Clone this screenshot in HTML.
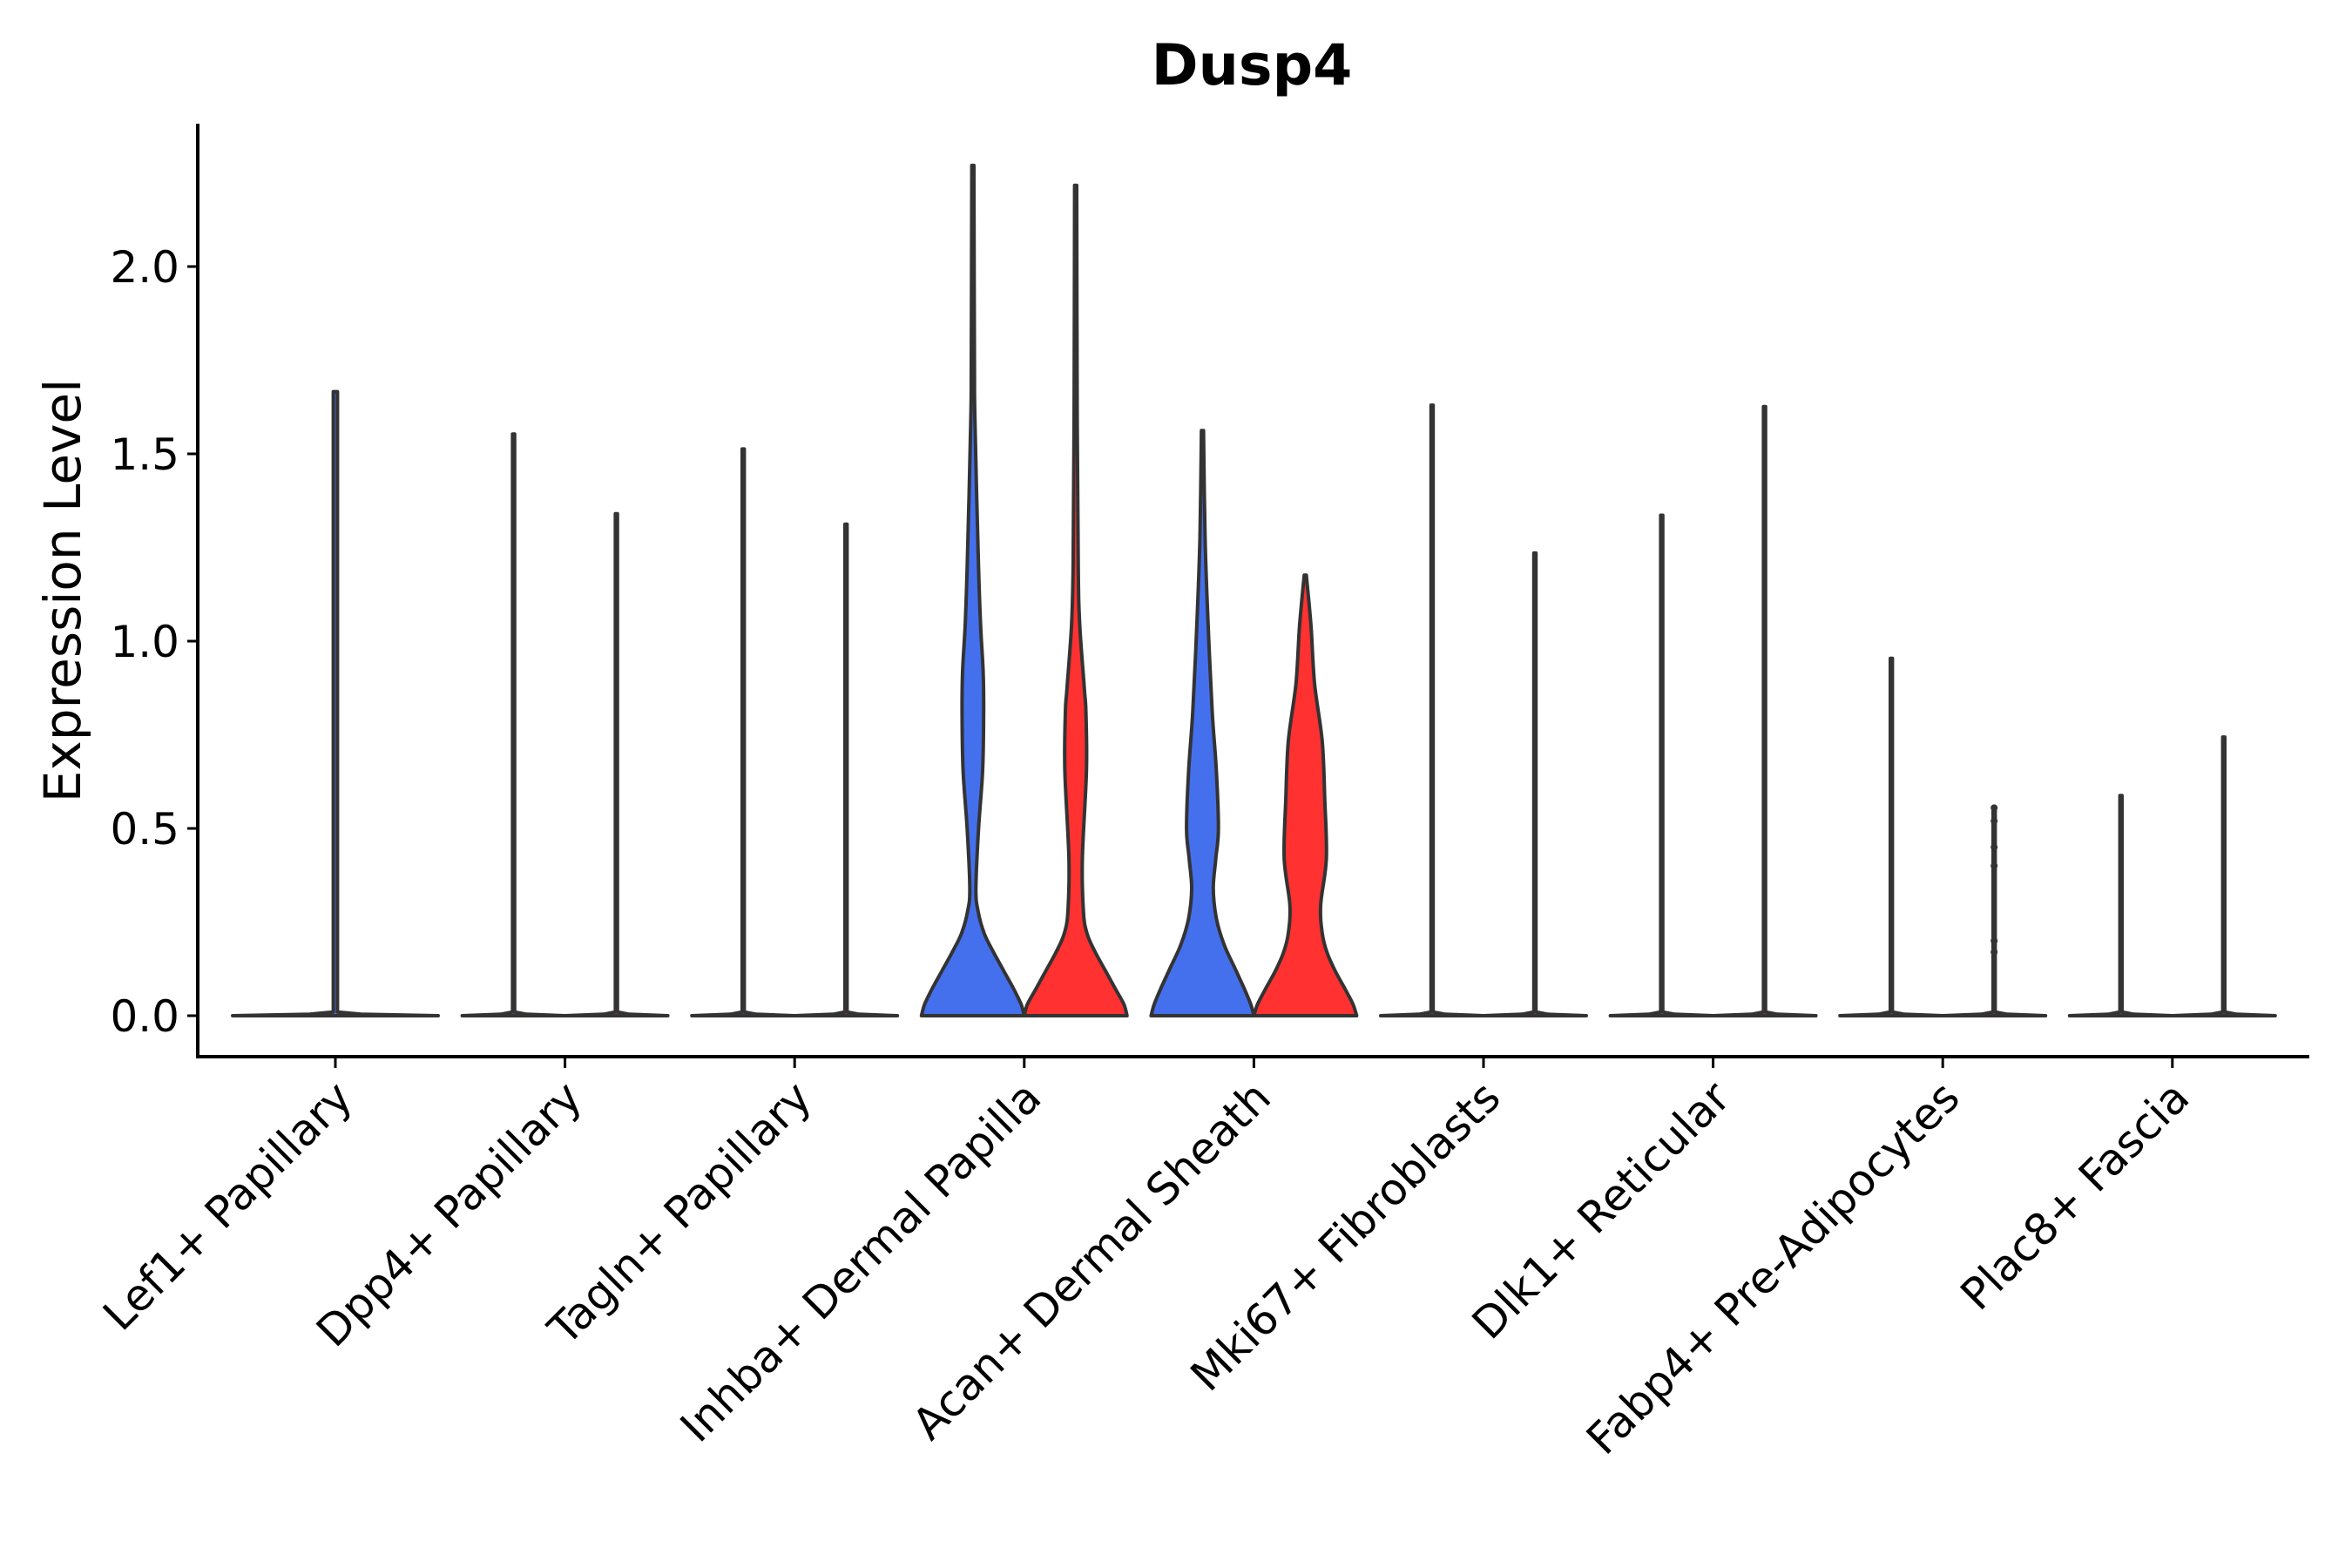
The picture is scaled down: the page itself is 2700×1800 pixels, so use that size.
<!DOCTYPE html>
<html><head><meta charset="utf-8">
<style>
html,body{margin:0;padding:0;background:#fff;}
svg{display:block;font-family:"DejaVu Sans","Liberation Sans",sans-serif;}
</style></head>
<body>
<svg id="chart" width="2700" height="1800" viewBox="0 0 2700 1800" xmlns="http://www.w3.org/2000/svg">
<rect width="2700" height="1800" fill="#fff"/>
<text x="1437" y="97" text-anchor="middle" font-size="65" font-weight="bold">Dusp4</text>
<text transform="translate(92,678) rotate(-90)" text-anchor="middle" font-size="58">Expression Level</text>
<g id="yaxis"></g>
<g id="xaxis"></g>
<g id="violins"></g>
</svg>
<script>
const categories = ["Lef1+ Papillary","Dpp4+ Papillary","Tagln+ Papillary","Inhba+ Dermal Papilla","Acan+ Dermal Sheath","Mki67+ Fibroblasts","Dlk1+ Reticular","Fabp4+ Pre-Adipocytes","Plac8+ Fascia"];
const yTicks = [0, 0.5, 1.0, 1.5, 2.0];
const yTickLabels = ["0.0","0.5","1.0","1.5","2.0"];
const violinCat   = [0, 1, 1, 2, 2, 3, 3, 4, 4, 5, 5, 6, 6, 7, 7, 8, 8];
const violinGroup = [-1, 0, 1, 0, 1, 0, 1, 0, 1, 0, 1, 0, 1, 0, 1, 0, 1];
const violinMax   = [1.666, 1.553, 1.34, 1.513, 1.312, 2.27, 2.217, 1.562, 1.176, 1.63, 1.235, 1.336, 1.626, 0.954, 0.555, 0.588, 0.744];
const thinV = [0, 0.004, 0.01];
const thinW = [1, 0.25, 0.02];
const inhbaBlueV = [0,0.03,0.07,0.12,0.17,0.22,0.28,0.34,0.498,0.654,0.81,0.919,1.043,1.2,1.589,1.745];
const inhbaBlueW = [1,0.94,0.8,0.6,0.4,0.22,0.1,0.06,0.11,0.19,0.21,0.2,0.15,0.11,0.04,0.03];
const inhbaRedV = [0,0.03,0.07,0.12,0.17,0.22,0.28,0.42,0.654,0.81,0.872,1.043,1.2,1.589];
const inhbaRedW = [1,0.94,0.78,0.58,0.38,0.22,0.15,0.13,0.21,0.2,0.17,0.08,0.05,0.03];
const acanBlueV = [0,0.03,0.07,0.13,0.19,0.26,0.34,0.42,0.5,0.654,0.81,1.043,1.277];
const acanBlueW = [1,0.94,0.82,0.62,0.42,0.27,0.21,0.26,0.31,0.27,0.19,0.11,0.05];
const acanRedV = [0,0.03,0.07,0.12,0.17,0.22,0.296,0.42,0.576,0.732,0.888,1.043];
const acanRedW = [1,0.93,0.78,0.58,0.42,0.33,0.3,0.41,0.38,0.33,0.18,0.11];
const fabp4Points = [0.555, 0.52, 0.45, 0.40, 0.20, 0.17];

const NS = "http://www.w3.org/2000/svg";
const X0 = 227, X1 = 2651, YTOP = 142, YAXIS = 1213;
const CAT0 = 385, STEP = 263.6, HALF = 59;
function xScale(i){ return CAT0 + i*STEP; }
function yScale(v){ return 1166 - v*430; }
const colors = {"-1":"#4570ED","0":"#4570ED","1":"#FF3131"};

const ya = document.getElementById('yaxis');
let l = document.createElementNS(NS,'line');
l.setAttribute('x1',X0);l.setAttribute('x2',X0);l.setAttribute('y1',YTOP);l.setAttribute('y2',YAXIS+1.5);
l.setAttribute('stroke','#000');l.setAttribute('stroke-width','4');


ya.appendChild(l);
yTicks.forEach((t,k)=>{
  const y=yScale(t);
  const tk=document.createElementNS(NS,'line');
  tk.setAttribute('x1',X0-12);tk.setAttribute('x2',X0);tk.setAttribute('y1',y);tk.setAttribute('y2',y);
  tk.setAttribute('stroke','#000');tk.setAttribute('stroke-width','3');
  
  
  ya.appendChild(tk);
  const tx=document.createElementNS(NS,'text');
  tx.setAttribute('x',X0-21);tx.setAttribute('y',y+18);tx.setAttribute('text-anchor','end');tx.setAttribute('font-size','50');
  tx.textContent=yTickLabels[k];
  
  
  ya.appendChild(tx);
});
const xa = document.getElementById('xaxis');
l = document.createElementNS(NS,'line');
l.setAttribute('x1',X0-2);l.setAttribute('x2',X1);l.setAttribute('y1',YAXIS);l.setAttribute('y2',YAXIS);
l.setAttribute('stroke','#000');l.setAttribute('stroke-width','4');


xa.appendChild(l);
categories.forEach((c,i)=>{
  const x=xScale(i);
  const tk=document.createElementNS(NS,'line');
  tk.setAttribute('x1',x);tk.setAttribute('x2',x);tk.setAttribute('y1',YAXIS);tk.setAttribute('y2',YAXIS+13);
  tk.setAttribute('stroke','#000');tk.setAttribute('stroke-width','3');
  
  
  xa.appendChild(tk);
  const tx=document.createElementNS(NS,'text');
  tx.setAttribute('transform','translate('+(x+22)+','+(YAXIS+50)+') rotate(-45)');
  tx.setAttribute('text-anchor','end');tx.setAttribute('font-size','50');
  tx.textContent=c;
  
  
  xa.appendChild(tx);
});

function profileFor(k){
  if(k===5) return [inhbaBlueV,inhbaBlueW];
  if(k===6) return [inhbaRedV,inhbaRedW];
  if(k===7) return [acanBlueV,acanBlueW];
  if(k===8) return [acanRedV,acanRedW];
  return [thinV,thinW];
}
function smooth(pts){
  let d='';
  for(let i=0;i<pts.length-1;i++){
    const p0=pts[Math.max(0,i-1)],p1=pts[i],p2=pts[i+1],p3=pts[Math.min(pts.length-1,i+2)];
    const c1=[p1[0]+(p2[0]-p0[0])/6,p1[1]+(p2[1]-p0[1])/6];
    const c2=[p2[0]-(p3[0]-p1[0])/6,p2[1]-(p3[1]-p1[1])/6];
    d+=' C'+c1[0].toFixed(1)+','+c1[1].toFixed(1)+' '+c2[0].toFixed(1)+','+c2[1].toFixed(1)+' '+p2[0].toFixed(1)+','+p2[1].toFixed(1);
  }
  return d;
}
function straight(pts){
  return pts.slice(1).map(p=>' L'+p[0].toFixed(1)+','+p[1].toFixed(1)).join('');
}
const vg = document.getElementById('violins');
violinCat.forEach((ci,k)=>{
  const g=violinGroup[k];
  const cx = g<0 ? xScale(ci) : xScale(ci) + (g===0?-HALF:HALF);
  const hw = g<0 ? 2*HALF : HALF;
  const pr = profileFor(k);
  const isThin = pr[0]===thinV;
  const vs = pr[0].filter(v=>v<violinMax[k]).concat([violinMax[k]]);
  const ws = pr[1].slice(0,vs.length-1).concat([0.02]);
  const right=[], left=[];
  for(let j=0;j<vs.length;j++){
    right.push([cx+ws[j]*hw, yScale(vs[j])]);
    left.unshift([cx-ws[j]*hw, yScale(vs[j])]);
  }
  const seg = isThin ? straight : smooth;
  const d='M'+left[left.length-1][0].toFixed(1)+','+left[left.length-1][1].toFixed(1)+
    ' L'+right[0][0].toFixed(1)+','+right[0][1].toFixed(1)+seg(right)+
    ' L'+left[0][0].toFixed(1)+','+left[0][1].toFixed(1)+seg(left)+' Z';
  const p=document.createElementNS(NS,'path');
  p.setAttribute('d',d);
  p.setAttribute('fill',colors[g]);
  p.setAttribute('stroke','#333');p.setAttribute('stroke-width','4');p.setAttribute('stroke-linejoin','round');
  
  
  vg.appendChild(p);
});
fabp4Points.forEach(v=>{
  const c=document.createElementNS(NS,'circle');
  c.setAttribute('cx',xScale(7)+HALF);c.setAttribute('cy',yScale(v));c.setAttribute('r','4');c.setAttribute('fill','#333');
  
  
  vg.appendChild(c);
});
</script>
</body></html>
